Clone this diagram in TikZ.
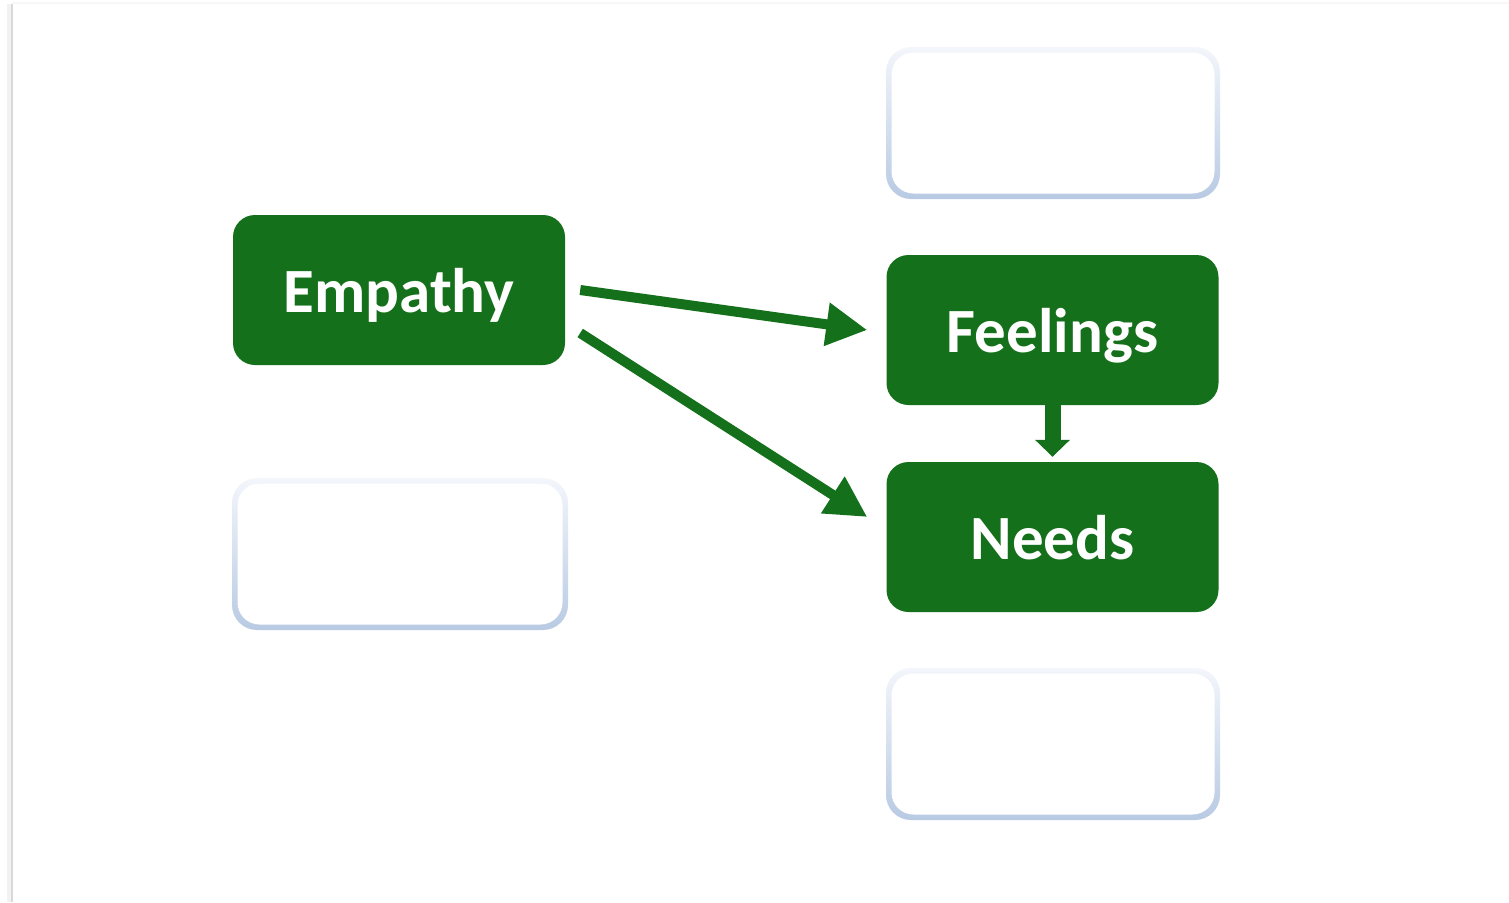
\documentclass[tikz,border=0pt]{standalone}
\usepackage{fontspec}
\setmainfont{Carlito}
\usetikzlibrary{arrows.meta,calc}
\definecolor{boxgreen}{RGB}{20,112,26}
\definecolor{ringtop}{RGB}{243,246,251}
\definecolor{ringbot}{RGB}{184,202,227}
\tikzset{
  greenbox/.style={draw=none, fill=boxgreen, rounded corners=22pt, minimum width=332pt, minimum height=150pt,
    text=white, font=\fontsize{63}{70}\selectfont\bfseries, inner sep=0pt, text height=44pt, text depth=0pt},
  conn/.style={draw=boxgreen, line width=10pt, -{Triangle[length=41pt,width=41pt]}},
  downconn/.style={draw=boxgreen, line width=16pt, -{Triangle[length=17pt,width=34pt]}}
}
\newcommand{\ringbox}[5]{% name, x1, y1, x2, y2
  \shade[top color=ringtop, bottom color=ringbot, rounded corners=25pt] (#2-3,#3-3) rectangle (#4+3,#5+3);
  \fill[white, rounded corners=22pt] (#2+2.5,#3+2.5) rectangle (#4-2.5,#5-2.5);
  \coordinate (#1) at ({(#2+#4)/2},{(#3+#5)/2});
}
\begin{document}
\begin{tikzpicture}[x=1pt,y=-1pt]
\useasboundingbox (0,0) rectangle (1509,902);
\fill[white] (0,0) rectangle (1509,902);
% page shadow
\draw[black!5, line width=5pt] (9,902) -- (9,4);
\draw[black!15, line width=2pt] (12,902) -- (12,4);
\draw[black!3, line width=2pt] (12,3) -- (1509,3);
% empty boxes
\ringbox{top}{889}{50}{1217}{196}
\ringbox{left}{235}{481}{565}{627}
\ringbox{bottom}{889}{671}{1217}{817}
% green boxes
\node[greenbox] (emp) at (399,290) {Empathy};
\node[greenbox] (feel) at (1052.5,330) {Feelings};
\node[greenbox] (need) at (1052.5,537) {Needs};
% connectors
\draw[conn] ($(emp.east)+(15,0)$) -- ($(feel.west)+(-19,0)$);
\draw[conn] ($(emp.east)+(15,43)$) -- ($(need.west)+(-19,-20)$);
\draw[downconn] (feel.south) -- ($(need.north)+(0,-5)$);
\end{tikzpicture}
\end{document}
